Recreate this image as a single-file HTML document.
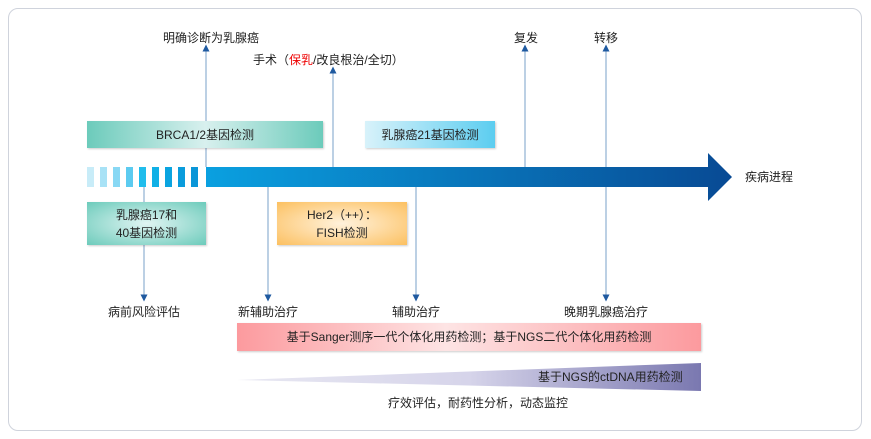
<!DOCTYPE html><html><head><meta charset="utf-8"><style>
body{margin:0;width:871px;height:439px;background:#fff;font-family:"Liberation Sans","Noto Sans CJK SC",sans-serif;position:relative;overflow:hidden}
.a{position:absolute}
.t{position:absolute;font-size:12px;color:#222;white-space:nowrap;line-height:14px}
.c{transform:translateX(-50%)}
.bx{position:absolute;display:flex;align-items:center;justify-content:center;text-align:center;font-size:12px;color:#222;line-height:18px;box-shadow:1px 1px 2px rgba(0,0,0,.2)}
</style></head><body>
<div class="a" style="left:8px;top:8px;width:852px;height:421px;border:1px solid #cfd3dc;border-radius:10px"></div>
<svg class="a" style="left:0;top:0" width="871" height="439">
<defs>
<linearGradient id="bar" x1="0" x2="1"><stop offset="0" stop-color="#0aa0e0"/><stop offset="1" stop-color="#084a94"/></linearGradient>
<marker id="ar" viewBox="0 0 10 10" refX="5" refY="5" markerWidth="7" markerHeight="7" orient="auto"><path d="M0,0L10,5L0,10z" fill="#1f5aa0"/></marker>
<linearGradient id="tri" x1="0" x2="1"><stop offset="0" stop-color="#e8e8f2"/><stop offset=".5" stop-color="#d6d4ea"/><stop offset="1" stop-color="#7a78b0"/></linearGradient>
</defs>
<g stroke="#7aa0c8" stroke-width="1" marker-end="url(#ar)">
<line x1="206" y1="167" x2="206" y2="48"/>
<line x1="333" y1="167" x2="333" y2="70"/>
<line x1="525" y1="167" x2="525" y2="48"/>
<line x1="606" y1="187" x2="606" y2="48"/>
<line x1="268" y1="187" x2="268" y2="298"/>
<line x1="416" y1="187" x2="416" y2="298"/>
<line x1="606" y1="187" x2="606" y2="298"/>
<line x1="144" y1="245" x2="144" y2="298"/>
</g>
<line x1="144" y1="187" x2="144" y2="202" stroke="#7aa0c8"/>
<g>
<rect x="87" y="167" width="7" height="20" fill="#c8ecf8"/>
<rect x="100" y="167" width="7" height="20" fill="#a8e2f6"/>
<rect x="113" y="167" width="7" height="20" fill="#88d8f4"/>
<rect x="126" y="167" width="7" height="20" fill="#5ccbf0"/>
<rect x="139" y="167" width="7" height="20" fill="#20bdec"/>
<rect x="152" y="167" width="7" height="20" fill="#10b0e6"/>
<rect x="165" y="167" width="7" height="20" fill="#0aa4e0"/>
<rect x="178" y="167" width="7" height="20" fill="#0a9cdc"/>
<rect x="191" y="167" width="7" height="20" fill="#0a96d8"/>
</g>
<path d="M206,167H708V153L732,177L708,201V187H206Z" fill="url(#bar)"/>
<path d="M237,380L701,363V391Z" fill="url(#tri)"/>
</svg>
<div class="bx" style="left:87px;top:121px;width:236px;height:27px;background:linear-gradient(90deg,#6ccbbb,#d8f0ee 50%,#6ccbbb)">BRCA1/2基因检测</div>
<div class="bx" style="left:365px;top:121px;width:130px;height:27px;background:linear-gradient(90deg,#d8f2fa,#5ccdf0)">乳腺癌21基因检测</div>
<div class="bx" style="left:87px;top:202px;width:119px;height:43px;background:radial-gradient(ellipse at center,#e0f4f2,#6ccbbb)">乳腺癌17和<br>40基因检测</div>
<div class="bx" style="left:277px;top:202px;width:130px;height:43px;background:radial-gradient(ellipse at center,#fff2dc,#fcc060)">Her2（++）：<br>FISH检测</div>
<div class="bx" style="left:237px;top:323px;width:464px;height:28px;background:linear-gradient(90deg,#fc9a9e,#fde4e4 45%,#fc9a9e)">基于Sanger测序一代个体化用药检测；基于NGS二代个体化用药检测</div>
<div class="t" style="left:538px;top:370px">基于NGS的ctDNA用药检测</div>
<div class="t c" style="left:478px;top:396px">疗效评估，耐药性分析，动态监控</div>
<div class="t" style="left:163px;top:31px">明确诊断为乳腺癌</div>
<div class="t" style="left:253px;top:53px">手术（<span style="color:#e00">保乳</span>/改良根治/全切）</div>
<div class="t" style="left:514px;top:31px">复发</div>
<div class="t" style="left:594px;top:31px">转移</div>
<div class="t" style="left:745px;top:170px">疾病进程</div>
<div class="t c" style="left:144px;top:305px">病前风险评估</div>
<div class="t c" style="left:268px;top:305px">新辅助治疗</div>
<div class="t c" style="left:416px;top:305px">辅助治疗</div>
<div class="t c" style="left:606px;top:305px">晚期乳腺癌治疗</div>
</body></html>
